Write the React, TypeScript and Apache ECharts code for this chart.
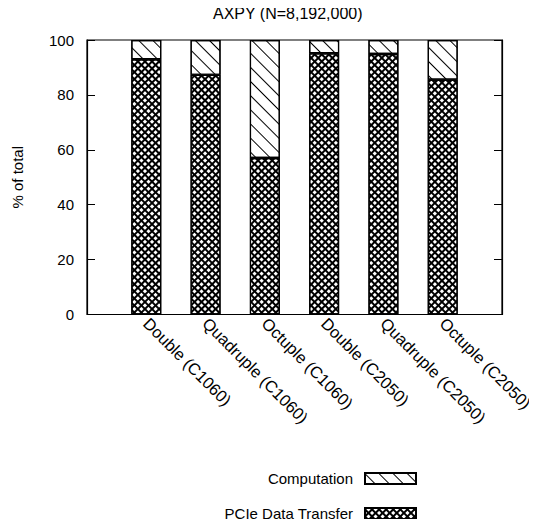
import React, { useEffect, useRef } from "react";
import * as echarts from "echarts";

const categories = [
  "Double (C1060)",
  "Quadruple (C1060)",
  "Octuple (C1060)",
  "Double (C2050)",
  "Quadruple (C2050)",
  "Octuple (C2050)",
];
const pcieTransfer = [93, 87.3, 57, 95.2, 94.9, 85.5];
const computation = pcieTransfer.map((v) => +(100 - v).toFixed(1));
const yTicks = [0, 20, 40, 60, 80, 100];

const FONT = "Liberation Sans, Arial, Helvetica, sans-serif";

export default function App() {
  const ref = useRef<HTMLDivElement>(null);
  useEffect(() => {
    if (!ref.current) return;
    const chart = echarts.init(ref.current, null, { renderer: "svg" });
    // padded category list: an empty slot on each side (x range -1 .. 6)
    const xCats = ["", ...categories, ""];
    const pad = (arr: number[]) => [null, ...arr, null];
    const hatch = {
      symbol: "rect",
      color: "#000",
      backgroundColor: "#fff",
      dashArrayX: [1, 0],
      dashArrayY: [1, 9],
      rotation: Math.PI / 4,
    };
    const cross = {
      symbol: "rect",
      color: "#000",
      backgroundColor: "#fff",
      dashArrayX: [[2, 0], [2, 3]],
      dashArrayY: [2, 0, 3, 0],
      rotation: Math.PI / 4,
    };
    chart.setOption({
      animation: false,
      textStyle: { fontFamily: FONT, color: "#000" },
      title: {
        text: "AXPY (N=8,192,000)",
        left: 208,
        top: 0,
        textStyle: { fontFamily: FONT, fontSize: 16, fontWeight: "normal", color: "#000" },
      },
      grid: {
        left: 87,
        right: 35,
        top: 40,
        bottom: 212.5,
        containLabel: false,
        outerBoundsMode: "none",
        show: true,
        borderColor: "#000",
        borderWidth: 1.2,
        backgroundColor: "transparent",
      },
      legend: {
        orient: "vertical",
        right: 120,
        top: 471,
        padding: 0,
        align: "right",
        itemWidth: 51,
        itemHeight: 11,
        itemGap: 20,
        icon: "rect",
        data: ["Computation", "PCIe Data Transfer"],
        textStyle: { fontFamily: FONT, fontSize: 15, color: "#000", padding: [0, 7, 0, 0] },
      },
      xAxis: {
        type: "category",
        data: xCats,
        boundaryGap: false,
        axisLine: { show: false },
        axisTick: { show: false },
        splitLine: { show: false },
        axisLabel: {
          interval: 0,
          rotate: -45,
          margin: 6,
          fontSize: 16.5,
          fontFamily: FONT,
          color: "#000",
        },
      },
      yAxis: [
        {
          type: "value",
          min: yTicks[0],
          max: yTicks[yTicks.length - 1],
          interval: 20,
          name: "% of total",
          nameLocation: "middle",
          nameGap: 62,
          nameTextStyle: { fontFamily: FONT, fontSize: 15, color: "#000" },
          axisLine: { show: true, lineStyle: { color: "#000", width: 1.2 } },
          axisTick: { show: true, inside: true, length: 8, lineStyle: { color: "#000" } },
          splitLine: { show: false },
          axisLabel: { fontSize: 15, fontFamily: FONT, color: "#000", margin: 13 },
        },
        {
          type: "value",
          position: "right",
          min: yTicks[0],
          max: yTicks[yTicks.length - 1],
          interval: 20,
          axisLine: { show: true, lineStyle: { color: "#000", width: 1.2 } },
          axisTick: { show: true, inside: true, length: 8, lineStyle: { color: "#000" } },
          splitLine: { show: false },
          axisLabel: { show: false },
        },
      ],
      series: [
        {
          name: "PCIe Data Transfer",
          type: "bar",
          stack: "total",
          barWidth: 30,
          data: pad(pcieTransfer),
          itemStyle: { color: "#fff", borderColor: "#000", borderWidth: 1.2, decal: cross },
        },
        {
          name: "Computation",
          type: "bar",
          stack: "total",
          barWidth: 30,
          data: pad(computation),
          itemStyle: { color: "#fff", borderColor: "#000", borderWidth: 1.2, decal: hatch },
        },
      ],
    });
    return () => chart.dispose();
  }, []);
  return <div ref={ref} style={{ width: 537, height: 527, margin: -8 }} />;
}
